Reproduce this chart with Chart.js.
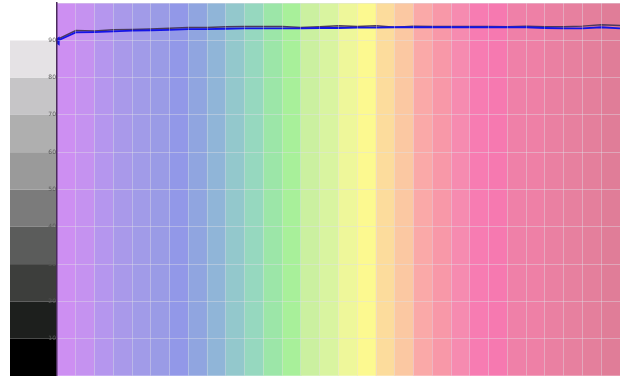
<!DOCTYPE html>
<html>
<head>
<meta charset="utf-8">
<script src="https://cdn.jsdelivr.net/npm/chart.js@4/dist/chart.umd.min.js"></script>
<style>
  html, body { margin: 0; padding: 0; background: #ffffff; overflow: hidden; }
  #wrap { width: 620px; height: 376px; position: relative; }
</style>
</head>
<body>
<div id="wrap"><canvas id="c"></canvas></div>
<script>
// ---- data ----
const categories = ['1','2','3','4','5','6','7','8','9','10','11','12','13','14','15',
                    '16','17','18','19','20','21','22','23','24','25','26','27','28','29','30'];
const columnColors = [
  '#cd8ff2', '#c592f0', '#b596ee', '#a999ea', '#a19be8', '#9a9be6',
  '#9298e8', '#90a5e0', '#90b5d8', '#93c8cc', '#96d8bf', '#9ce6a8',
  '#a8f09a', '#cbf0a0', '#d9f4a0', '#eef79a', '#fcf990', '#fcdc9c',
  '#fbc8a2', '#faa9a8', '#f898a8', '#f68bb0', '#f77cb2', '#f679b0',
  '#ef80a8', '#ee80a6', '#ea80a2', '#e7809f', '#e47f9c', '#e07d98'
];
const bandTop = [100, 100, 100, 100, 100, 100, 100, 100, 100, 100,
                 100, 100, 100, 100, 100, 100, 100, 100, 100, 100,
                 100, 100, 100, 100, 100, 100, 100, 100, 100, 100];
const xPositions = [0,1,2,3,4,5,6,7,8,9,10,11,12,13,14,15,16,17,18,19,20,21,22,23,24,25,26,27,28,29,30];
const seriesBlue = [89.8, 92.1, 92.2, 92.4, 92.6, 92.7, 92.8, 93.0, 93.0, 93.1,
                    93.2, 93.2, 93.2, 93.2, 93.3, 93.3, 93.4, 93.4, 93.5, 93.5,
                    93.5, 93.5, 93.5, 93.5, 93.5, 93.5, 93.3, 93.2, 93.2, 93.5, 93.2];
const seriesDark = [90.2, 92.6, 92.5, 92.8, 92.9, 93.0, 93.2, 93.4, 93.4, 93.6,
                    93.7, 93.7, 93.7, 93.4, 93.6, 93.9, 93.7, 93.9, 93.5, 93.8,
                    93.7, 93.7, 93.7, 93.7, 93.6, 93.8, 93.6, 93.6, 93.8, 94.2, 94.0];
const yTickLabels = ['10', '20', '30', '40', '50', '60', '70', '80', '90'];
const grayBandValues = [0, 10, 20, 30, 40, 50, 60, 70, 80, 90];
const grayBandColors = ['#000000', '#1d1f1d', '#3d3e3c', '#5b5c5b', '#7b7b7b',
                        '#9a9a9a', '#afafaf', '#c6c5c7', '#e5e2e5', '#ffffff'];

// ---- chart ----
const grayBands = {
  id: 'grayBands',
  beforeDraw(chart) {
    const { ctx, chartArea, scales } = chart;
    const y = scales.y;
    ctx.save();
    grayBandValues.forEach((v, i) => {
      const top = y.getPixelForValue(v + 10);
      const bot = y.getPixelForValue(v);
      ctx.fillStyle = grayBandColors[i];
      ctx.fillRect(10, top, chartArea.left - 10, bot - top);
    });
    ctx.restore();
  }
};

new Chart(document.getElementById('c'), {
  type: 'bar',
  data: {
    labels: categories,
    datasets: [
      {
        type: 'bar',
        xAxisID: 'x',
        data: bandTop,
        backgroundColor: columnColors,
        borderWidth: 0,
        grouped: false,
        barPercentage: 1,
        categoryPercentage: 1,
        order: 5
      },
      {
        type: 'line',
        xAxisID: 'x2',
        data: xPositions.map((x, i) => ({ x, y: seriesDark[i] })),
        borderColor: '#4b3a5c',
        borderWidth: 1.5,
        pointRadius: 0,
        tension: 0,
        order: 1
      },
      {
        type: 'line',
        xAxisID: 'x2',
        data: xPositions.map((x, i) => ({ x, y: seriesBlue[i] })),
        borderColor: '#1414e6',
        borderWidth: 1.8,
        pointRadius: xPositions.map((x, i) => i === 0 ? 3.5 : 0),
        pointStyle: 'triangle',
        rotation: 270,
        pointBackgroundColor: '#1414e6',
        pointBorderColor: '#1414e6',
        tension: 0,
        order: 0
      }
    ]
  },
  options: {
    responsive: true,
    maintainAspectRatio: false,
    animation: false,
    layout: { autoPadding: false, padding: { top: 3, right: 0, bottom: 0, left: 0 } },
    plugins: { legend: { display: false }, tooltip: { enabled: false } },
    scales: {
      x: {
        type: 'category',
        offset: true,
        afterFit(scale) { scale.height = 0; },
        ticks: { display: false, autoSkip: false },
        grid: { z: 1, offset: true, color: 'rgba(225,225,232,0.42)', lineWidth: 1, drawTicks: false },
        border: { display: false }
      },
      x2: {
        type: 'linear',
        min: 0,
        max: 30,
        offset: false,
        display: false
      },
      y: {
        min: 0,
        max: 100,
        afterFit(scale) { scale.width = 57; scale.paddingTop = 0; scale.paddingBottom = 0; },
        ticks: {
          stepSize: 10,
          padding: 1,
          color: '#5a5a5a',
          font: { size: 6, family: 'DejaVu Sans' },
          callback(v) { const s = String(v); return yTickLabels.includes(s) ? s : ''; }
        },
        grid: { z: 1, color: 'rgba(225,225,232,0.42)', lineWidth: 1, drawTicks: false },
        border: { display: true, z: 2, color: '#4a2c5a', width: 1.5 }
      }
    }
  },
  plugins: [grayBands]
});
</script>
</body>
</html>
